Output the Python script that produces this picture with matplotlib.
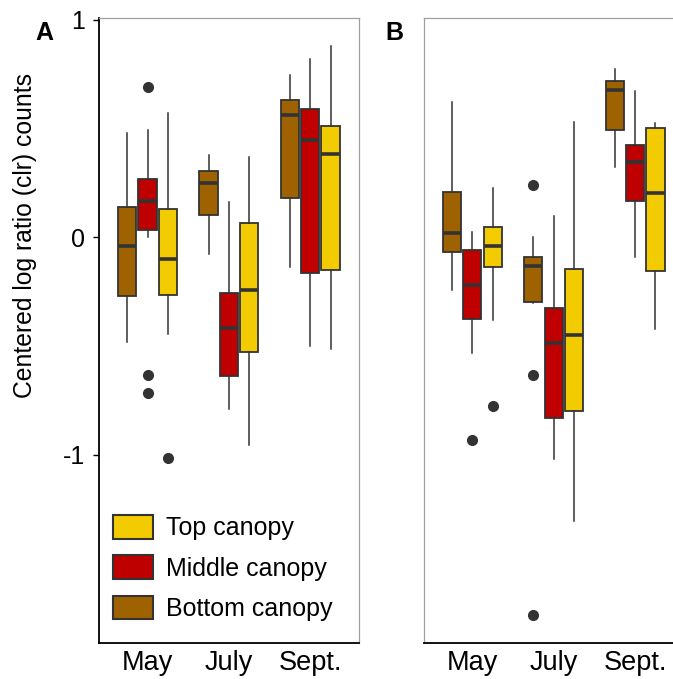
import matplotlib
matplotlib.use("Agg")
import matplotlib.pyplot as plt
from matplotlib.patches import Patch

plt.rcParams['font.family'] = ['Liberation Sans', 'DejaVu Sans']

months = ["May", "July", "Sept."]
canopies = ["Bottom canopy", "Middle canopy", "Top canopy"]
colors = ["#9E6200", "#BF0000", "#F2CB00"]

# box stats per panel, ordered May (B, M, T), July (B, M, T), Sept. (B, M, T)
a_med = [-0.041, 0.167, -0.101, 0.251, -0.418, -0.242, 0.563, 0.447, 0.384]
a_q1 = [-0.271, 0.034, -0.264, 0.102, -0.637, -0.527, 0.182, -0.164, -0.152]
a_q3 = [0.138, 0.268, 0.130, 0.303, -0.254, 0.064, 0.632, 0.591, 0.510]
a_lo = [-0.480, 0.003, -0.444, -0.077, -0.790, -0.956, -0.135, -0.499, -0.514]
a_hi = [0.478, 0.493, 0.570, 0.378, 0.162, 0.369, 0.744, 0.818, 0.877]
a_out = [[], [0.69, -0.633, -0.715], [-1.012], [], [], [], [], [], []]

b_med = [0.018, -0.219, -0.040, -0.132, -0.487, -0.449, 0.677, 0.347, 0.202]
b_q1 = [-0.066, -0.377, -0.138, -0.299, -0.831, -0.796, 0.493, 0.167, -0.153]
b_q3 = [0.209, -0.058, 0.046, -0.089, -0.326, -0.144, 0.719, 0.423, 0.501]
b_lo = [-0.242, -0.533, -0.380, -0.303, -1.018, -1.303, 0.324, -0.089, -0.421]
b_hi = [0.620, 0.026, 0.228, 0.003, 0.098, 0.531, 0.772, 0.673, 0.524]
b_out = [[], [-0.933], [-0.775], [0.24, -0.633, -1.735], [], [], [], [], []]

EDGE = "#333333"
GRAY = "#A0A0A0"


def stats(med, q1, q3, lo, hi, out):
    return [dict(med=med[i], q1=q1[i], q3=q3[i], whislo=lo[i], whishi=hi[i],
                 fliers=out[i]) for i in range(len(med))]


def draw(ax, st, letter, lx):
    pos = [m + 1 + (k - 1) * 0.25 for m in range(3) for k in range(3)]
    bp = ax.bxp(st, positions=pos, widths=0.225, patch_artist=True,
                showcaps=False, manage_ticks=False,
                boxprops=dict(edgecolor=EDGE, linewidth=1.3),
                whiskerprops=dict(color=EDGE, linewidth=1.1),
                medianprops=dict(color=EDGE, linewidth=2.6),
                flierprops=dict(marker='o', markersize=7, markerfacecolor=EDGE,
                                markeredgecolor=EDGE))
    for i, box in enumerate(bp['boxes']):
        box.set_facecolor(colors[i % 3])
    ax.set_xlim(0.4, 3.6)
    ax.set_ylim(-1.864, 1.01)
    ax.set_xticks([1, 2, 3])
    ax.set_xticklabels(months, fontsize=19.5)
    ax.tick_params(axis='x', length=0, pad=5)
    for s in ['top', 'right', 'left']:
        ax.spines[s].set_color(GRAY)
        ax.spines[s].set_linewidth(0.9)
    ax.spines['bottom'].set_color('black')
    ax.spines['bottom'].set_linewidth(1.3)
    ax.text(lx, 0.995, letter, transform=ax.transAxes, fontsize=18,
            fontweight='bold', ha='left', va='top')


fig = plt.figure(figsize=(6.73, 6.79), dpi=100)
axA = fig.add_axes([0.1467, 0.053, 0.3868, 0.9212])
axB = fig.add_axes([0.6293, 0.053, 0.3868, 0.9212])

draw(axA, stats(a_med, a_q1, a_q3, a_lo, a_hi, a_out), "A", -0.245)
draw(axB, stats(b_med, b_q1, b_q3, b_lo, b_hi, b_out), "B", -0.148)

axA.spines['left'].set_color('black')
axA.spines['left'].set_linewidth(1.3)
axA.set_yticks([1, 0, -1])
axA.set_yticklabels(["1", "0", "-1"], fontsize=18)
axA.tick_params(axis='y', length=4, width=1, pad=6)
axA.set_ylabel("Centered log ratio (clr) counts", fontsize=17.8)
axA.yaxis.set_label_coords(-0.237, 0.652)
axB.set_yticks([])

handles = [Patch(facecolor=colors[k], edgecolor=EDGE, linewidth=1.5)
           for k in (2, 1, 0)]
labels = [canopies[k] for k in (2, 1, 0)]
axA.legend(handles, labels, loc='lower left', bbox_to_anchor=(0.056, 0.035),
           frameon=False, fontsize=18, handlelength=1.6, handleheight=1.08,
           labelspacing=0.6, handletextpad=0.5, borderpad=0, borderaxespad=0)

fig.savefig("out.png", dpi=100)
